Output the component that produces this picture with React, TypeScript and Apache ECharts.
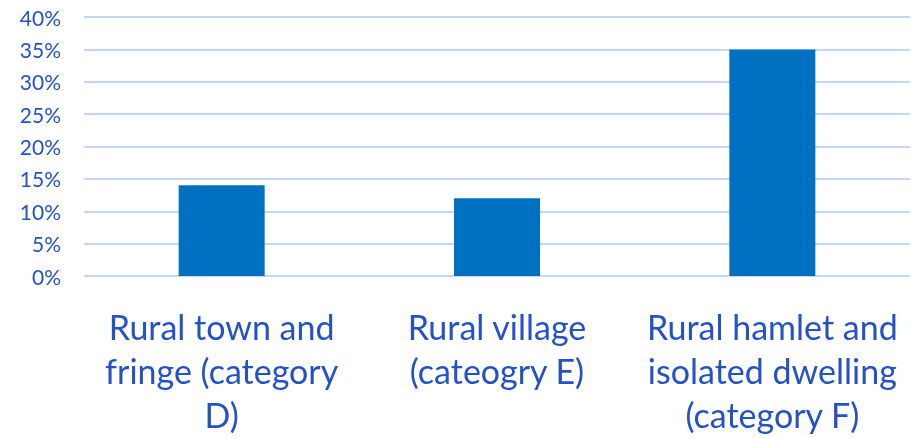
import React, { useEffect, useRef } from "react";
import * as echarts from "echarts";

const categories = [
  "Rural town and fringe (category D)",
  "Rural village (cateogry E)",
  "Rural hamlet and isolated dwelling (category F)",
];
const categoryLines = [
  "Rural town and\nfringe (category\nD)",
  "Rural village\n(cateogry E)",
  "Rural hamlet and\nisolated dwelling\n(category F)",
];
const values = [14, 12, 35];
const yTicks = [0, 5, 10, 15, 20, 25, 30, 35, 40];

export default function App() {
  const ref = useRef<HTMLDivElement>(null);
  useEffect(() => {
    if (!ref.current) return;
    const chart = echarts.init(ref.current, undefined, { renderer: "svg" });
    const textColor = "#2451c6";
    chart.setOption({
      animation: false,
      grid: { left: 84, right: 5, top: 17, bottom: 162 },
      xAxis: {
        type: "category",
        data: categories,
        axisLine: { show: false },
        axisTick: { show: false },
        axisLabel: {
          color: textColor,
          fontFamily: "Lato",
          fontSize: 34,
          lineHeight: 44,
          margin: 28,
          interval: 0,
          formatter: (v: string) => categoryLines[categories.indexOf(v)],
        },
      },
      yAxis: {
        type: "value",
        min: 0,
        max: 40,
        interval: 5,
        axisLine: { show: false },
        axisTick: { show: false },
        splitLine: { lineStyle: { color: "#c5d6f5", width: 2 } },
        axisLabel: {
          color: textColor,
          fontFamily: "Lato",
          fontSize: 21,
          margin: 23,
          formatter: (v: number) => (yTicks.includes(v) ? v + "%" : ""),
        },
      },
      series: [
        {
          type: "bar",
          data: values,
          barWidth: 86,
          itemStyle: { color: "#0070c0" },
        },
      ],
    });
    return () => chart.dispose();
  }, []);
  return (
    <div
      ref={ref}
      style={{ position: "fixed", left: 0, top: 0, width: 915, height: 438 }}
    />
  );
}
